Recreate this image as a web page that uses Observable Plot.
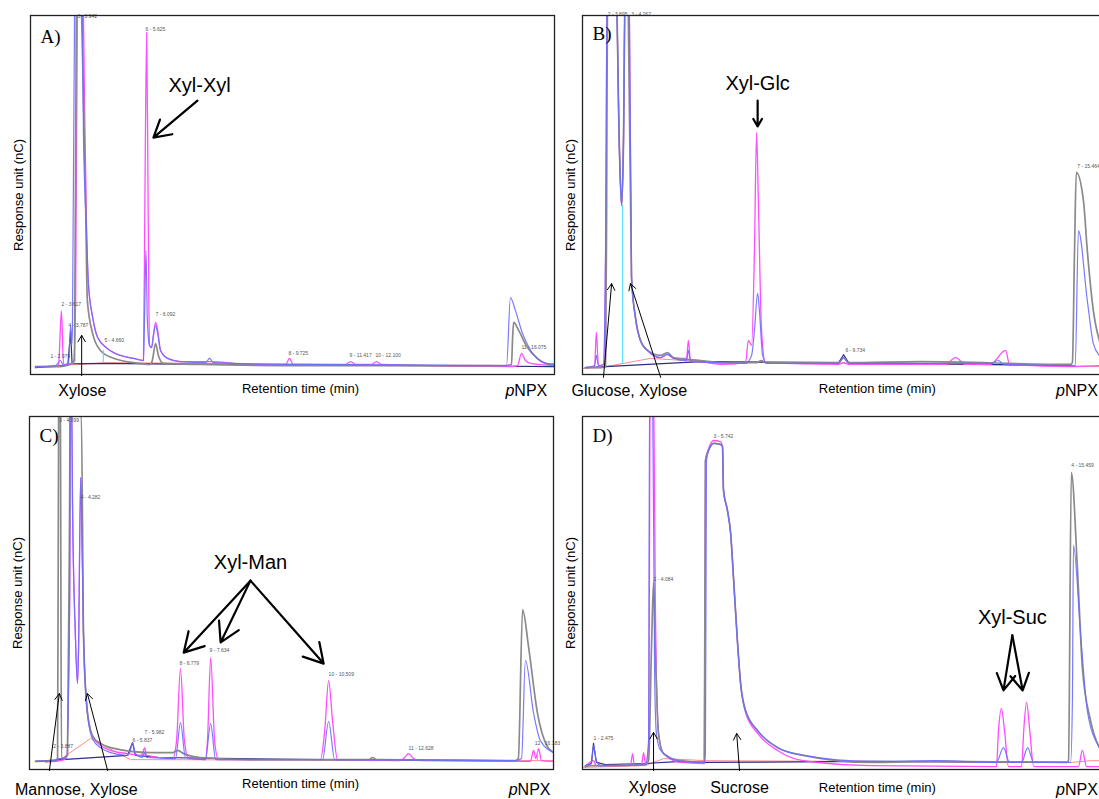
<!DOCTYPE html>
<html><head><meta charset="utf-8">
<script src="https://cdn.jsdelivr.net/npm/d3@7"></script>
<script src="https://cdn.jsdelivr.net/npm/@observablehq/plot@0.6"></script>
<style>
html,body{margin:0;padding:0;background:#fff;overflow:hidden}
#wrap{position:relative;width:1099px;height:799px;overflow:hidden;background:#fff}
.p{position:absolute;width:560px;height:400px}
.p svg{max-width:none !important}
</style></head><body><div id="wrap"></div>
<script>
// ---- Panel A (Xylose + Xyl-Xyl) : [retention time (min), response (% full scale)]
const A_gray = [[2.49,2.2],[3.19,2.2],[3.42,2.8],[3.53,3.3],[3.59,3.9],[3.64,100],[3.70,112.5],[3.79,100],[3.84,76.3],[3.90,48.5],[3.95,20.6],[4.10,11.4],[4.32,6.7],[4.69,4.5],[5.25,3.3],[5.73,2.8],[5.78,3.9],[5.87,8.6],[5.95,5.3],[6.09,3.1],[7.14,2.8],[9.95,2.5],[15.72,2.5],[15.89,2.8],[15.92,10],[15.95,14.5],[16.09,12.3],[16.34,7.5],[16.62,4.5],[16.99,2.8],[17.10,2.8]];
const A_magenta = [[2.49,2.2],[3.05,2.2],[3.14,2.8],[3.22,17.8],[3.28,2.8],[3.48,2.8],[3.56,3.3],[3.62,20.6],[3.67,100],[3.76,115],[3.84,100],[3.87,76.3],[3.93,39.3],[3.98,25.3],[4.10,15.9],[4.24,10.3],[4.52,7.2],[4.88,5.3],[5.25,4.5],[5.53,3.9],[5.57,48.5],[5.62,95.3],[5.66,48.5],[5.70,8.1],[5.76,7.5],[5.81,10.9],[5.87,14.5],[5.93,12.3],[6.01,6.7],[6.21,4.5],[6.57,3.6],[7.39,3.6],[8.54,2.8],[9.53,2.8],[9.64,4.5],[9.75,2.8],[11.22,2.8],[11.36,3.6],[11.50,2.8],[11.95,2.8],[12.09,3.6],[12.23,2.8],[15.86,2.2],[16.06,2.5],[16.17,5.9],[16.28,3.9],[16.43,3.1],[17.10,2.5]];
const A_blue = [[2.49,2.2],[3.05,2.5],[3.19,3.9],[3.28,2.5],[3.42,3.3],[3.48,13.6],[3.51,8.1],[3.53,12.5],[3.59,100],[3.67,115],[3.81,100],[3.84,67.1],[3.93,39.3],[3.98,25.3],[4.10,15.9],[4.24,10.3],[4.52,7.2],[4.88,5.3],[5.25,4.5],[5.53,3.9],[5.57,20.6],[5.60,34.5],[5.64,15.0],[5.70,8.1],[5.76,7.5],[5.81,10.9],[5.87,13.6],[5.93,11.4],[6.01,6.7],[6.21,4.5],[6.57,3.6],[7.28,3.3],[7.39,4.5],[7.50,3.3],[9.95,2.8],[15.72,2.5],[15.75,2.5],[15.86,21.4],[16.00,17.8],[16.20,11.4],[16.43,6.7],[16.79,3.3],[17.10,2.8]];
const A_dark = [[2.49,1.9],[3.40,2.5],[3.48,12.0],[3.52,3.0],[4.32,3.1],[7.14,2.8],[15.72,2.3],[17.10,2.2]];
const A_red = [[2.69,2.2],[4.60,3.3],[7.14,3.1],[16.99,2.2]];
const A_cyan = [[4.40,3.3,6.7]];
const A_peaks = [[2.91,4.2,"1 - 2.979"],[3.22,18.7,"2 - 3.617"],[3.67,98.9,"3 - 3.942"],[3.42,12.8,"4 - 3.787"],[4.43,8.6,"5 - 4.660"],[5.59,95.3,"6 - 5.625"],[5.87,15.9,"7 - 6.092"],[9.61,5.0,"8 - 9.725"],[11.33,4.5,"9 - 11.417"],[12.06,4.5,"10 - 12.100"],[16.17,6.7,"11 - 16.075"]];
const A_names = [[3.81,-4.5,"Xylose"]];
const A_products = [[7.11,80.5,"Xyl-Xyl"]];
const A_thick = [[7.05,76.3,5.81,66.0]];
const A_thin = [[3.79,-0.3,3.79,10.9]];
const A_axisTitle = [[9.95,-3.9]];
const A_pnpx = [[15.97,-4.5]];

// ---- Panel B (Glucose + Xyl-Glc)
const B_gray = [[2.43,1.9],[2.86,1.9],[3.00,2.2],[3.03,48.5],[3.05,100],[3.11,115],[3.28,115],[3.39,62.4],[3.45,47.1],[3.50,62.4],[3.56,115],[3.64,100],[3.73,27.0],[3.84,15.9],[3.98,9.5],[4.18,6.7],[4.55,5.3],[4.74,6.1],[4.91,4.7],[5.67,3.9],[6.32,3.3],[7.25,3.3],[7.39,3.9],[7.50,3.3],[9.56,3.3],[9.70,4.7],[9.84,3.3],[11.86,3.6],[16.09,2.8],[16.14,3.3],[16.20,34.5],[16.25,56.3],[16.45,48.5],[16.56,34.5],[16.73,17.8],[16.90,9.5],[17.10,6.1]];
const B_magenta = [[2.43,1.9],[2.69,2.2],[2.74,11.7],[2.80,2.2],[2.94,2.8],[3.00,34.5],[3.05,115],[3.28,115],[3.39,62.4],[3.45,47.1],[3.50,62.4],[3.56,115],[3.67,100],[3.73,27.0],[3.84,15.9],[3.98,9.5],[4.18,6.7],[4.55,4.7],[4.74,5.6],[4.91,4.5],[5.28,4.5],[5.33,9.5],[5.39,3.9],[5.67,3.6],[6.32,2.8],[6.94,3.3],[7.02,9.5],[7.11,8.1],[7.19,34.5],[7.25,67.4],[7.30,48.5],[7.39,12.3],[7.50,3.3],[9.56,2.8],[9.70,3.3],[9.84,2.8],[12.57,2.8],[12.85,4.7],[13.13,2.8],[13.83,2.8],[14.26,6.7],[14.37,2.8],[16.09,2.2],[16.90,2.5],[17.10,2.5]];
const B_blue = [[2.43,1.9],[2.69,2.5],[2.74,5.3],[2.80,2.5],[2.94,2.8],[3.00,34.5],[3.05,115],[3.28,115],[3.39,62.4],[3.45,47.1],[3.50,62.4],[3.56,115],[3.67,100],[3.73,27.0],[3.84,15.9],[3.98,9.5],[4.18,6.7],[4.55,4.7],[4.74,5.6],[4.91,4.5],[5.28,3.9],[5.33,6.7],[5.39,3.6],[6.94,3.1],[7.11,5.3],[7.19,12.3],[7.28,22.6],[7.33,17.8],[7.42,5.3],[7.53,3.1],[9.56,3.1],[9.70,4.7],[9.84,3.1],[13.83,3.1],[14.06,3.9],[14.20,2.8],[16.14,2.5],[16.22,2.5],[16.31,40.1],[16.56,20.6],[16.73,8.6],[16.90,5.3],[17.10,3.9]];
const B_dark = [[2.43,1.9],[3.00,2.2],[5.67,3.6],[9.56,3.3],[9.70,5.5],[9.84,3.3],[16.09,2.5]];
const B_red = [[2.35,1.7],[2.86,1.9],[4.26,4.5],[5.67,3.6],[15.81,2.5],[16.65,2.2],[17.10,2.2]];
const B_cyan = [[3.48,3.1,47.1]];
const B_peaks = [[3.06,99.5,"2 - 3.895"],[3.72,99.5,"3 - 4.267"],[9.75,5.9,"6 - 9.734"],[16.28,57.1,"7 - 15.464"]];
const B_names = [[3.67,-4.5,"Glucose, Xylose"]];
const B_products = [[7.28,81.1,"Xyl-Glc"]];
const B_thick = [[7.28,76.3,7.28,69.1]];
const B_thin = [[2.94,-0.8,3.17,25.3],[4.55,-0.8,3.70,25.3]];
const B_axisTitle = [[10.65,-3.9]];
const B_pnpx = [[15.93,-4.5]];

// ---- Panel C (Mannose + Xyl-Man)
const C_gray = [[2.52,2.3],[3.08,2.5],[3.14,3.1],[3.17,100],[3.18,111],[3.21,111],[3.22,100],[3.25,3.1],[3.42,4.0],[3.48,76.2],[3.50,111],[3.73,111],[3.76,100],[3.81,100],[3.87,38.5],[3.95,19.5],[4.07,11.0],[4.15,9.1],[4.35,7.4],[4.63,6.2],[5.76,4.8],[6.38,4.8],[6.52,5.4],[6.69,4.5],[7.16,3.4],[8.57,2.8],[11.89,2.8],[12.01,3.4],[12.12,2.8],[16.03,2.5],[16.11,3.1],[16.23,45.3],[16.40,34.6],[16.65,15.9],[16.88,7.4],[17.10,4.8]];
const C_magenta = [[2.52,2.3],[3.08,2.3],[3.22,2.5],[3.39,3.1],[3.48,47.9],[3.50,111],[3.53,111],[3.56,76.2],[3.64,38.5],[3.70,24.4],[3.73,33.7],[3.79,82.7],[3.81,76.2],[3.87,38.5],[3.95,19.5],[4.07,11.0],[4.15,9.1],[4.35,6.8],[4.63,5.4],[5.11,4.5],[5.47,4.0],[5.53,4.5],[5.59,6.2],[5.64,4.0],[6.38,3.1],[6.49,8.2],[6.60,28.6],[6.71,8.2],[6.83,3.1],[7.30,2.8],[7.36,8.2],[7.45,31.7],[7.56,8.2],[7.67,2.8],[10.54,2.8],[10.66,11.0],[10.77,25.2],[10.88,13.9],[11.02,2.8],[12.79,2.5],[12.91,3.4],[13.02,4.5],[13.16,3.1],[13.36,2.5],[16.45,2.3],[16.54,5.4],[16.60,3.1],[16.68,5.9],[16.76,2.5],[17.10,2.3]];
const C_blue = [[2.52,2.3],[3.08,2.5],[3.14,3.1],[3.39,3.1],[3.48,47.9],[3.50,111],[3.53,111],[3.56,76.2],[3.64,38.5],[3.70,24.4],[3.73,33.7],[3.79,82.7],[3.81,76.2],[3.87,38.5],[3.95,19.5],[4.07,10.2],[4.15,8.2],[4.35,6.2],[4.63,4.8],[5.11,4.0],[5.19,5.4],[5.25,7.6],[5.33,4.5],[5.53,3.4],[5.59,4.8],[5.64,3.4],[6.46,3.1],[6.60,13.3],[6.74,3.4],[7.30,2.8],[7.45,13.0],[7.59,2.8],[10.60,2.8],[10.77,13.6],[10.94,2.8],[16.03,2.5],[16.20,3.1],[16.31,30.9],[16.54,15.9],[16.73,8.2],[17.10,4.8]];
const C_dark = [[2.52,2.3],[5.11,4.0],[5.25,7.6],[5.33,4.0],[6.00,3.4],[10.50,2.8],[16.00,2.5]];
const C_red = [[2.80,2.0],[3.14,2.3],[4.07,8.8],[5.19,2.8],[17.10,2.5]];
const C_cyan = [[16.65,2.5,5.4]];
const C_peaks = [[3.02,5.7,"2 - 3.887"],[3.19,98.0,"3 - 4.099"],[3.79,76.2,"4 - 4.282"],[5.25,7.4,"6 - 5.837"],[5.59,9.6,"7 - 5.982"],[6.57,29.2,"8 - 6.779"],[7.42,32.9,"9 - 7.634"],[10.77,26.1,"10 - 10.509"],[13.02,5.1,"11 - 12.628"],[16.57,6.5,"12 - 16.183"]];
const C_names = [[3.67,-5.7,"Mannose, Xylose"]];
const C_products = [[8.57,58.6,"Xyl-Man"]];
const C_thick = [[8.57,53.5,6.69,33.1],[8.57,53.5,7.73,36.0],[8.57,53.5,10.63,30.0]];
const C_thin = [[2.91,-0.3,3.19,21.5],[4.55,-0.3,3.98,21.5]];
const C_axisTitle = [[9.98,-4.0]];
const C_pnpx = [[16.09,-5.9]];

// ---- Panel D (Sucrose + Xyl-Suc)
const D_gray = [[2.43,0.8],[2.58,1.1],[2.86,1.1],[4.12,1.4],[4.21,2.5],[4.29,33.7],[4.35,53.0],[4.40,33.7],[4.49,10.2],[4.63,4.5],[5.11,2.5],[5.78,2.0],[5.81,87.5],[5.90,90.4],[6.04,92.4],[6.23,92.1],[6.29,91.5],[6.32,79.0],[6.43,73.4],[6.52,66.9],[6.60,54.4],[6.71,36.5],[6.80,24.4],[6.94,16.7],[7.28,11.0],[7.84,6.2],[8.57,4.0],[10.46,2.0],[12.34,2.3],[15.97,2.0],[16.03,2.5],[16.11,84.1],[16.28,57.2],[16.42,28.9],[16.65,13.9],[16.90,6.2],[17.10,4.0]];
const D_magenta = [[2.43,0.8],[2.66,2.5],[2.74,1.1],[3.70,1.1],[3.76,4.5],[3.81,1.1],[4.01,1.4],[4.07,4.8],[4.12,1.7],[4.21,5.4],[4.26,111],[4.35,111],[4.40,47.9],[4.49,10.2],[4.63,4.5],[5.11,2.0],[5.78,1.7],[5.81,87.5],[5.90,90.9],[6.04,93.2],[6.23,92.9],[6.29,91.5],[6.32,79.0],[6.43,73.4],[6.52,66.9],[6.60,54.4],[6.71,36.5],[6.80,24.4],[6.94,16.1],[7.28,10.2],[7.84,5.4],[8.57,2.5],[10.46,1.1],[14.00,0.8],[14.06,11.0],[14.14,17.3],[14.23,11.0],[14.34,0.8],[14.71,0.8],[14.77,11.0],[14.85,19.0],[14.94,11.0],[15.05,0.8],[16.31,0.8],[16.42,5.4],[16.54,0.8],[17.10,0.8]];
const D_blue = [[2.43,1.1],[2.60,1.7],[2.66,6.8],[2.74,2.5],[2.86,1.1],[4.12,1.4],[4.21,8.2],[4.24,111],[4.32,111],[4.38,27.2],[4.43,10.2],[4.55,5.4],[5.11,2.3],[5.78,2.0],[5.81,4.5],[5.84,87.5],[5.90,90.4],[6.04,92.4],[6.23,92.1],[6.29,91.5],[6.32,79.0],[6.43,73.4],[6.52,66.9],[6.60,54.4],[6.71,36.5],[6.80,24.4],[6.94,16.7],[7.28,11.0],[7.84,6.2],[8.57,4.0],[10.46,2.3],[12.34,2.5],[14.00,2.0],[14.20,6.2],[14.37,2.0],[14.71,2.0],[14.88,6.2],[15.05,2.0],[16.09,2.0],[16.14,19.5],[16.17,63.5],[16.37,38.5],[16.56,16.7],[16.90,6.2],[17.10,4.0]];
const D_dark = [[2.43,1.1],[2.60,1.7],[2.66,7.4],[2.74,2.0],[3.00,1.4],[4.12,1.7],[5.11,2.3],[5.78,2.0],[10.46,2.3],[15.97,2.0]];
const D_red = [[2.35,0.6],[4.12,1.1],[4.63,3.1],[5.81,2.5],[16.09,2.0],[16.65,2.5],[17.10,2.5]];
const D_cyan = [];
const D_peaks = [[2.66,7.9,"1 - 2.475"],[4.35,53.0,"2 - 4.084"],[6.04,93.5,"3 - 5.742"],[16.11,85.3,"4 - 15.459"]];
const D_names = [[4.32,-5.1,"Xylose"],[6.77,-5.1,"Sucrose"]];
const D_products = [[14.45,43.1,"Xyl-Suc"]];
const D_thick = [[14.45,38.0,14.20,22.4],[14.45,38.0,14.74,22.4]];
const D_thin = [[4.35,-0.3,4.35,10.5],[6.77,-0.3,6.69,10.2]];
const D_axisTitle = [[10.65,-5.1]];
const D_pnpx = [[15.93,-5.7]];

const timeDomain = [2.35, 17.1];
const responseDomain = [0, 100];
const axisTitleText = "Retention time (min)";
const yTitleText = "Response unit (nC)";

const panels = [
  {letter:"A)", left:0,   top:0,   ml:30, mr:6, mt:15, mb:26, ly:21, gray:A_gray, magenta:A_magenta, blue:A_blue, dark:A_dark, red:A_red, cyan:A_cyan, peaks:A_peaks, names:A_names, products:A_products, thick:A_thick, thin:A_thin, axisTitle:A_axisTitle, pnpx:A_pnpx},
  {letter:"B)", left:552, top:0,   ml:30, mr:6, mt:15, mb:26, ly:18, gray:B_gray, magenta:B_magenta, blue:B_blue, dark:B_dark, red:B_red, cyan:B_cyan, peaks:B_peaks, names:B_names, products:B_products, thick:B_thick, thin:B_thin, axisTitle:B_axisTitle, pnpx:B_pnpx},
  {letter:"C)", left:0,   top:400, ml:29, mr:7, mt:16, mb:31, ly:19, gray:C_gray, magenta:C_magenta, blue:C_blue, dark:C_dark, red:C_red, cyan:C_cyan, peaks:C_peaks, names:C_names, products:C_products, thick:C_thick, thin:C_thin, axisTitle:C_axisTitle, pnpx:C_pnpx},
  {letter:"D)", left:552, top:400, ml:30, mr:6, mt:16, mb:31, ly:19, gray:D_gray, magenta:D_magenta, blue:D_blue, dark:D_dark, red:D_red, cyan:D_cyan, peaks:D_peaks, names:D_names, products:D_products, thick:D_thick, thin:D_thin, axisTitle:D_axisTitle, pnpx:D_pnpx}
];

const X = d => d[0], Y = d => d[1];
function trace(data, stroke, w, op = 1, curve = "monotone-x") {
  return Plot.line(data, {x: X, y: Y, stroke, strokeWidth: w, strokeOpacity: op, curve, clip: true});
}
function drawPanel(p) {
  return Plot.plot({
    width: 560, height: 400,
    marginLeft: p.ml, marginRight: p.mr, marginTop: p.mt, marginBottom: p.mb,
    x: {domain: timeDomain, axis: null},
    y: {domain: responseDomain, axis: null},
    style: {fontFamily: "'Liberation Sans', Arial, sans-serif", background: "transparent", overflow: "visible", maxWidth: "none"},
    marks: [
      trace(p.red, "#ff8c8c", 1, 1, "linear"),
      trace(p.dark, "#2f2f80", 1.2, 1, "linear"),
      trace(p.magenta, "#ff4dff", 1.3),
      trace(p.gray, "#8a8a8a", 1.7),
      trace(p.blue, "#6b6bff", 1.2, 0.9),
      Plot.ruleX(p.cyan, {x: d => d[0], y1: d => d[1], y2: d => d[2], stroke: "#40e0ff", strokeWidth: 1, clip: true}),
      Plot.text(p.peaks, {x: X, y: Y, text: d => d[2], fontSize: 5, fill: "#555", textAnchor: "start", dy: -3}),
      Plot.frame({stroke: "#222", strokeWidth: 1.3}),
      Plot.arrow(p.thick, {x1: d => d[0], y1: d => d[1], x2: d => d[2], y2: d => d[3], stroke: "#000", strokeWidth: 2.2, headLength: 15}),
      Plot.arrow(p.thin, {x1: d => d[0], y1: d => d[1], x2: d => d[2], y2: d => d[3], stroke: "#000", strokeWidth: 1, headLength: 11}),
      Plot.text(p.names, {x: X, y: Y, text: d => d[2], fontSize: 16, fill: "#000", lineAnchor: "middle"}),
      Plot.text(p.products, {x: X, y: Y, text: d => d[2], fontSize: 20, fill: "#000", lineAnchor: "middle"}),
      Plot.text(p.axisTitle, {x: X, y: Y, text: () => axisTitleText, fontSize: 13, fill: "#000", lineAnchor: "middle", letterSpacing: "-0.3px"}),
      Plot.text(p.pnpx, {x: X, y: Y, text: () => "p", fontSize: 16, fontStyle: "italic", textAnchor: "end", fill: "#000", lineAnchor: "middle"}),
      Plot.text(p.pnpx, {x: X, y: Y, text: () => "NPX", fontSize: 16, textAnchor: "start", fill: "#000", lineAnchor: "middle"}),
      Plot.text([yTitleText], {text: d => d, frameAnchor: "left", dx: -12, rotate: -90, textAnchor: "middle", lineAnchor: "middle", fontSize: 13, fill: "#000", letterSpacing: "-0.3px"}),
      Plot.text([p.letter], {text: d => d, frameAnchor: "top-left", dx: 10, dy: p.ly, textAnchor: "start", lineAnchor: "middle", fontSize: 19, fontFamily: "'Liberation Serif', 'Times New Roman', serif", fill: "#000"})
    ]
  });
}

const wrap = document.getElementById("wrap");
for (const p of panels) {
  const div = document.createElement("div");
  div.className = "p";
  div.style.left = p.left + "px";
  div.style.top = p.top + "px";
  div.appendChild(drawPanel(p));
  wrap.appendChild(div);
}
</script>
</body></html>
